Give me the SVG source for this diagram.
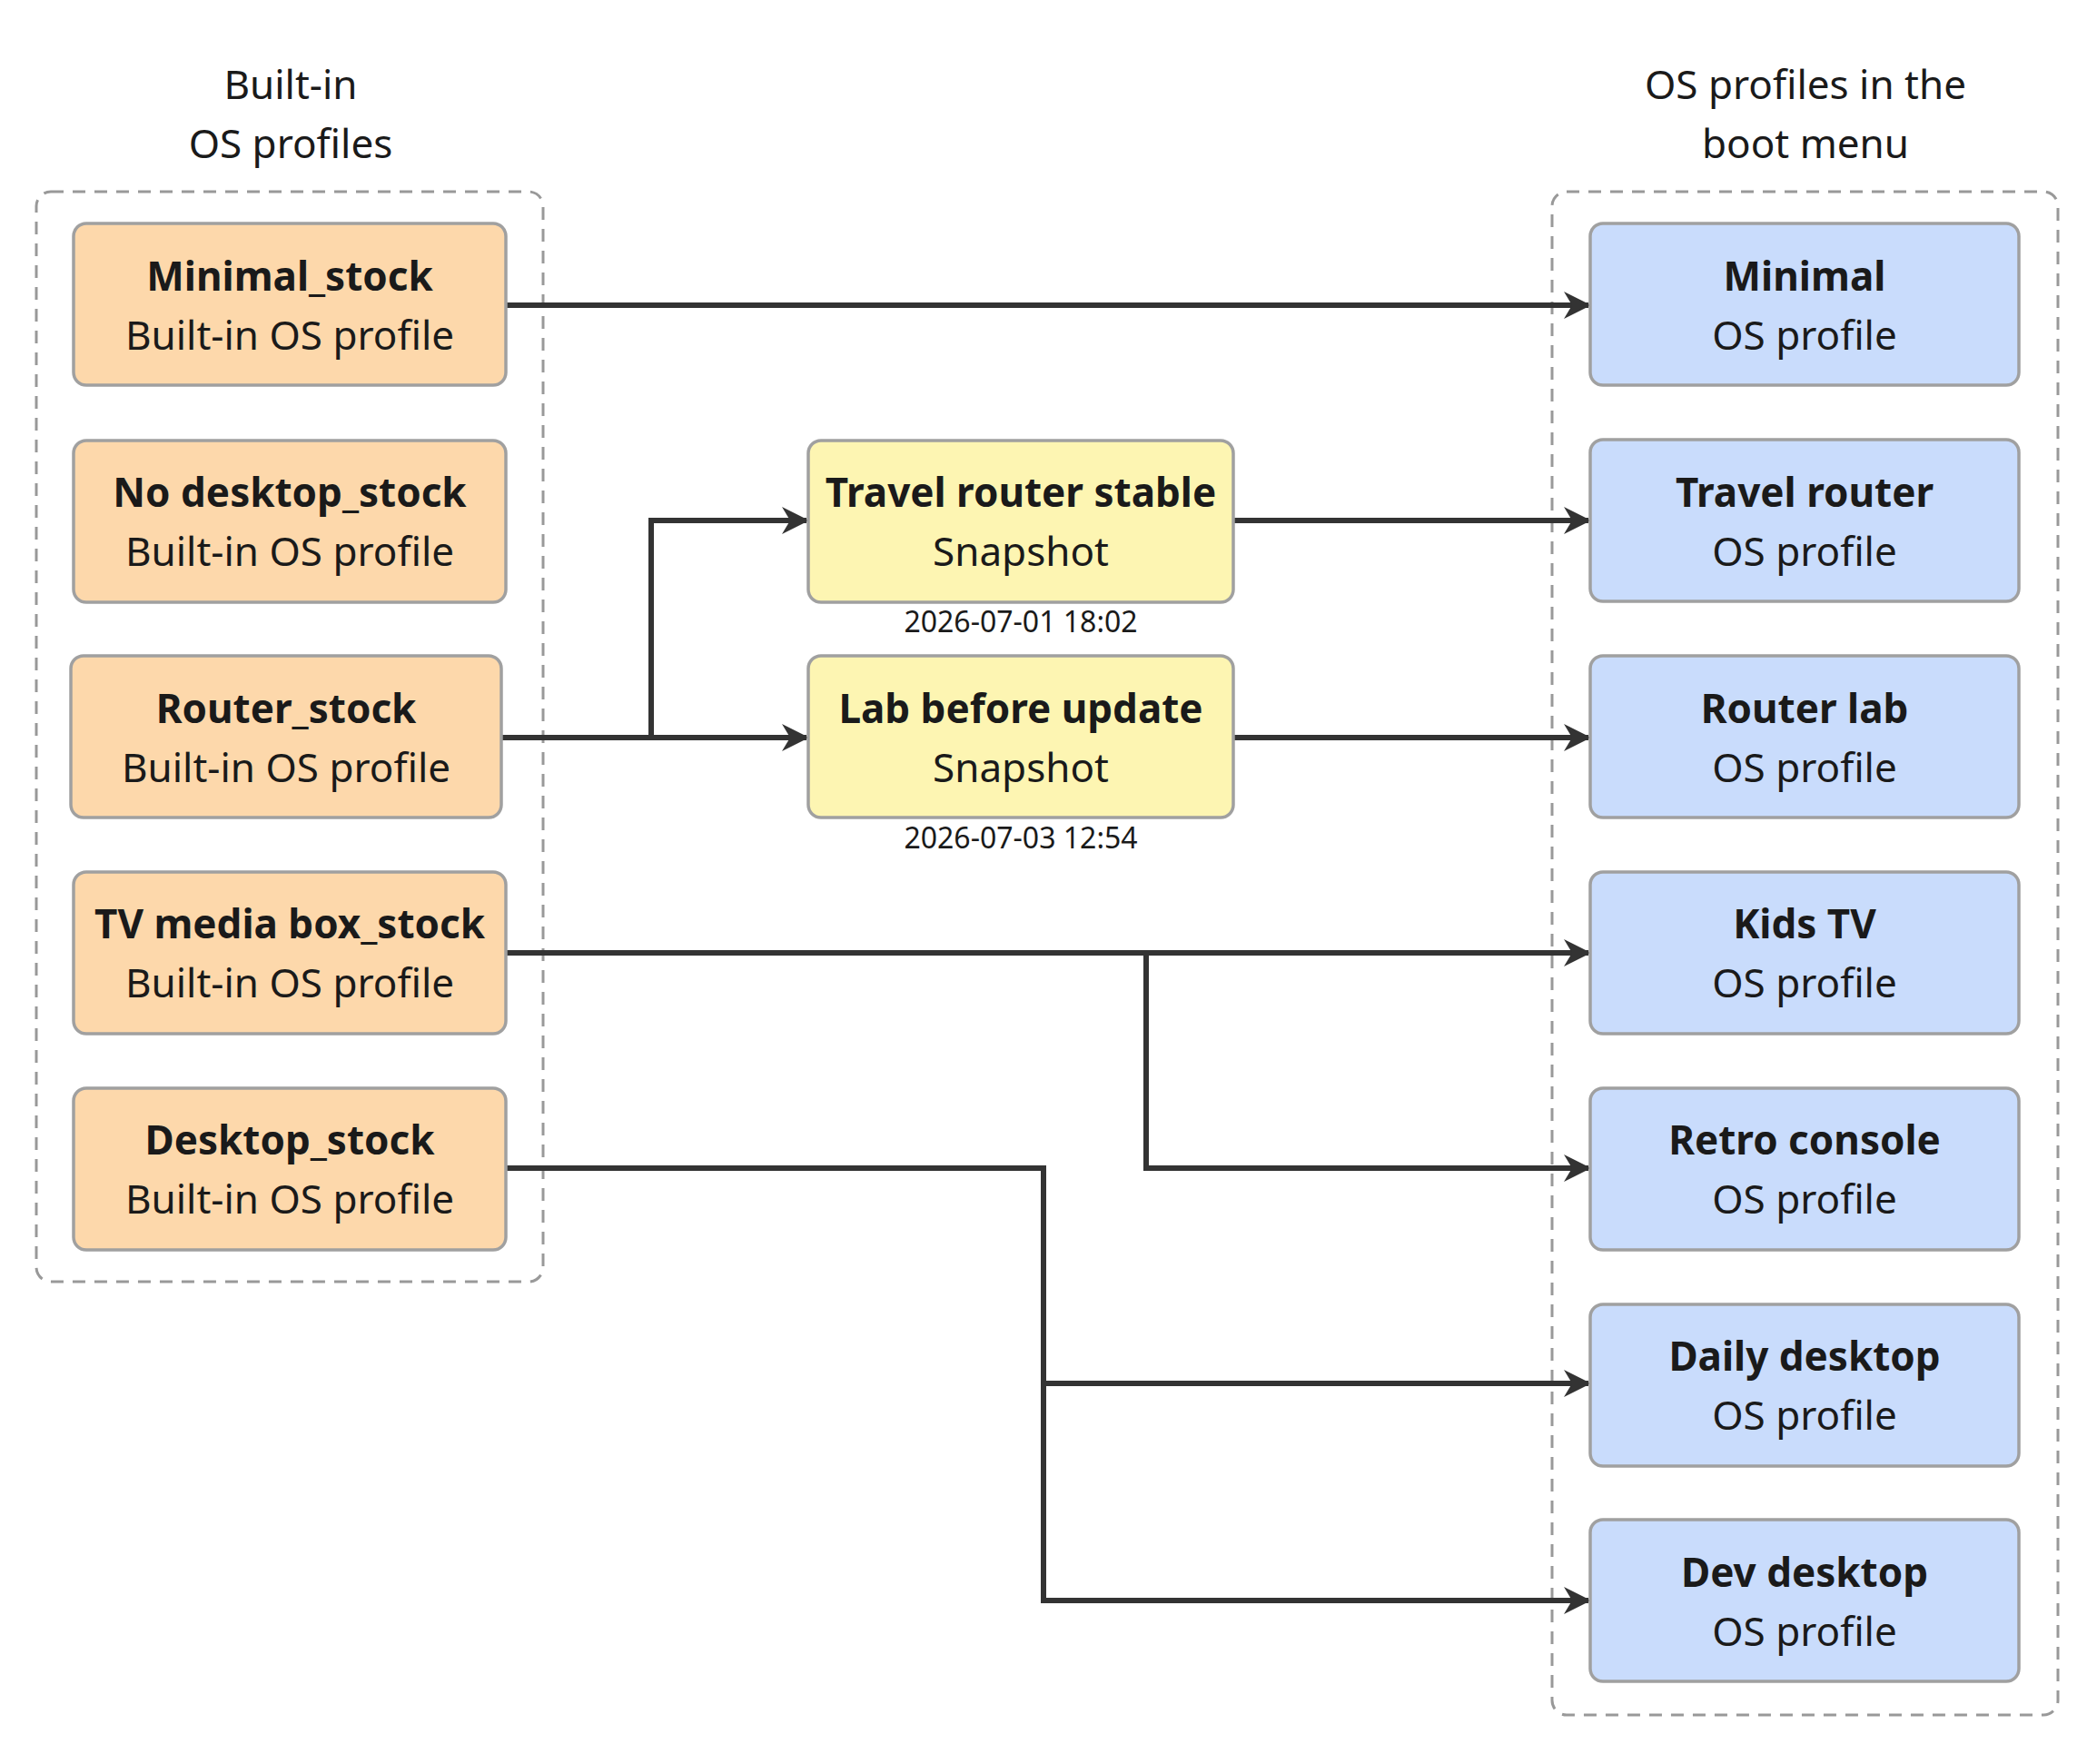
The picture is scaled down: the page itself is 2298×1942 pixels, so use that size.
<svg xmlns="http://www.w3.org/2000/svg" width="2298" height="1942" viewBox="0 0 2298 1942">
<style>
text{font-family:"Noto Sans","Open Sans",sans-serif;fill:#1a1a1a;text-anchor:middle}
.t{font-size:44px;font-weight:bold}
.s{font-size:44px}
.d{font-size:32px}
.h{font-size:44px}
.grp{fill:none;stroke:#999;stroke-width:3;stroke-dasharray:14 10}
.o{fill:#fdd8ab;stroke:#a0a0a0;stroke-width:3.5}
.b{fill:#c9dcfc;stroke:#a0a0a0;stroke-width:3.5}
.y{fill:#fdf5b2;stroke:#a0a0a0;stroke-width:3.5}
.e{fill:none;stroke:#333;stroke-width:6;marker-end:url(#a)}
</style>
<defs><marker id="a" viewBox="0 0 10 10" refX="9" refY="5" markerWidth="5" markerHeight="5" orient="auto" markerUnits="strokeWidth"><path d="M0,0 L10,5 L0,10 L3,5 Z" fill="#333"/></marker></defs>
<rect width="2298" height="1942" fill="#fff"/>
<g id="groups">
<rect class="grp" x="40" y="211" width="558" height="1200" rx="16"/>
<rect class="grp" x="1709" y="211" width="557" height="1677" rx="16"/>
<text class="h" x="320" y="109">Built-in</text>
<text class="h" x="320" y="174">OS profiles</text>
<text class="h" x="1988" y="109">OS profiles in the</text>
<text class="h" x="1988" y="174">boot menu</text>
</g>
<g id="edges">
<path class="e" d="M557,336 H1749"/>
<path class="e" d="M552,812 H888"/>
<path class="e" d="M717,812 V573 H888"/>
<path class="e" d="M1358,573 H1749"/>
<path class="e" d="M1358,812 H1749"/>
<path class="e" d="M557,1049 H1749"/>
<path class="e" d="M1262,1049 V1286 H1749"/>
<path class="e" d="M557,1286 H1149 V1762 H1749"/>
<path class="e" d="M1149,1523 H1749"/>
</g>
<g id="n1"><rect class="o" x="81" y="246" width="476" height="178" rx="14"/><text class="t" x="319" y="320">Minimal_stock</text><text class="s" x="319" y="385">Built-in OS profile</text></g>
<g id="n2"><rect class="o" x="81" y="485" width="476" height="178" rx="14"/><text class="t" x="319" y="558">No desktop_stock</text><text class="s" x="319" y="623">Built-in OS profile</text></g>
<g id="n3"><rect class="o" x="78" y="722" width="474" height="178" rx="14"/><text class="t" x="315" y="796">Router_stock</text><text class="s" x="315" y="861">Built-in OS profile</text></g>
<g id="n4"><rect class="o" x="81" y="960" width="476" height="178" rx="14"/><text class="t" x="319" y="1033">TV media box_stock</text><text class="s" x="319" y="1098">Built-in OS profile</text></g>
<g id="n5"><rect class="o" x="81" y="1198" width="476" height="178" rx="14"/><text class="t" x="319" y="1271">Desktop_stock</text><text class="s" x="319" y="1336">Built-in OS profile</text></g>
<g id="s1"><rect class="y" x="890" y="485" width="468" height="178" rx="14"/><text class="t" x="1124" y="558">Travel router stable</text><text class="s" x="1124" y="623">Snapshot</text><text class="d" x="1124" y="696">2026-07-01 18:02</text></g>
<g id="s2"><rect class="y" x="890" y="722" width="468" height="178" rx="14"/><text class="t" x="1124" y="796">Lab before update</text><text class="s" x="1124" y="861">Snapshot</text><text class="d" x="1124" y="934">2026-07-03 12:54</text></g>
<g id="r1"><rect class="b" x="1751" y="246" width="472" height="178" rx="14"/><text class="t" x="1987" y="320">Minimal</text><text class="s" x="1987" y="385">OS profile</text></g>
<g id="r2"><rect class="b" x="1751" y="484" width="472" height="178" rx="14"/><text class="t" x="1987" y="558">Travel router</text><text class="s" x="1987" y="623">OS profile</text></g>
<g id="r3"><rect class="b" x="1751" y="722" width="472" height="178" rx="14"/><text class="t" x="1987" y="796">Router lab</text><text class="s" x="1987" y="861">OS profile</text></g>
<g id="r4"><rect class="b" x="1751" y="960" width="472" height="178" rx="14"/><text class="t" x="1987" y="1033">Kids TV</text><text class="s" x="1987" y="1098">OS profile</text></g>
<g id="r5"><rect class="b" x="1751" y="1198" width="472" height="178" rx="14"/><text class="t" x="1987" y="1271">Retro console</text><text class="s" x="1987" y="1336">OS profile</text></g>
<g id="r6"><rect class="b" x="1751" y="1436" width="472" height="178" rx="14"/><text class="t" x="1987" y="1509">Daily desktop</text><text class="s" x="1987" y="1574">OS profile</text></g>
<g id="r7"><rect class="b" x="1751" y="1673" width="472" height="178" rx="14"/><text class="t" x="1987" y="1747">Dev desktop</text><text class="s" x="1987" y="1812">OS profile</text></g>
</svg>
